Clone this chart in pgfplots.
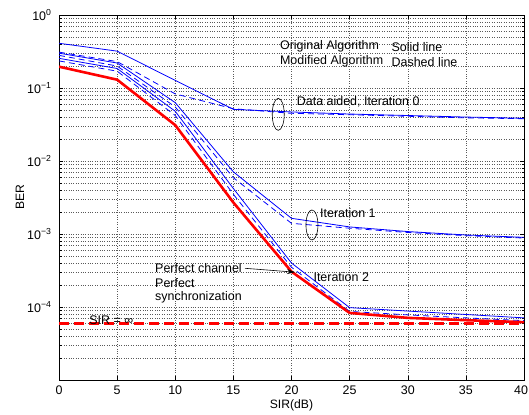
\documentclass[border=0pt]{standalone}
\usepackage{fontspec}
\setmainfont{Liberation Sans}
\usepackage{pgfplots}
\pgfplotsset{compat=1.18}
\usetikzlibrary{arrows.meta}
\newcommand{\ep}[1]{10\textsuperscript{#1}}
\begin{document}
\begin{tikzpicture}
\begin{axis}[
  name=ax,
  scale only axis, width=465bp, height=365bp,
  xmin=0, xmax=40, ymode=log, ymin=1e-5, ymax=1,
  xtick={0,5,...,40}, xticklabels={0,5,10,15,20,25,30,35,{\kern-6bp 40}},
  ytick={1e-5,1e-4,1e-3,1e-2,1e-1,1},
  yticklabels={,\ep{−4},\ep{−3},\ep{−2},\ep{−1},\ep{0}},
  grid=both,
  major grid style={dotted, black!65, line width=0.5pt},
  minor grid style={dotted, black!65, line width=0.5pt},
  axis line style={line width=0.8pt},
  tick style={black, line width=0.5pt},
  major tick length=4bp, minor tick length=2.5bp,
  tick label style={font=\fontsize{12.5}{14}\selectfont},
  yticklabel style={xshift=-4bp},
  xticklabel style={yshift=-2bp},
  label style={font=\fontsize{12.2}{14}\selectfont},
  xlabel={SIR(dB)}, ylabel={BER},
  xlabel style={at={(axis description cs:0.5,0)}, anchor=center, yshift=-25bp},
  ylabel style={at={(axis description cs:0,0.5)}, anchor=center, yshift=39bp},
  every axis plot/.append style={line join=round},
]
% Iteration 0
\addplot[blue, line width=0.8bp] coordinates {(0,0.41)(5,0.32)(10,0.127)(15,0.051)(20,0.047)(25,0.044)(30,0.042)(35,0.040)(40,0.0385)};
\addplot[blue, line width=0.8bp, dash pattern=on 6bp off 4bp] coordinates {(0,0.31)(5,0.23)(10,0.083)(15,0.052)(20,0.045)(25,0.043)(30,0.041)(35,0.039)(40,0.038)};
% Iteration 1
\addplot[blue, line width=0.8bp] coordinates {(0,0.30)(5,0.22)(10,0.063)(15,7.1e-3)(20,1.64e-3)(25,1.25e-3)(30,1.08e-3)(35,0.97e-3)(40,0.9e-3)};
\addplot[blue, line width=0.8bp, dash pattern=on 6bp off 4bp] coordinates {(0,0.28)(5,0.20)(10,0.055)(15,5.9e-3)(20,1.4e-3)(25,1.2e-3)(30,1.05e-3)(35,0.95e-3)(40,0.88e-3)};
% Iteration 2
\addplot[blue, line width=0.8bp] coordinates {(0,0.255)(5,0.185)(10,0.048)(15,4.2e-3)(20,4.0e-4)(25,9.8e-5)(30,8.8e-5)(35,7.9e-5)(40,7.1e-5)};
\addplot[blue, line width=0.8bp, dash pattern=on 6bp off 4bp] coordinates {(0,0.235)(5,0.17)(10,0.042)(15,3.5e-3)(20,3.5e-4)(25,8.7e-5)(30,7.8e-5)(35,7.1e-5)(40,6.5e-5)};
% Perfect channel
\addplot[red, line width=2.6bp] coordinates {(0,0.196)(5,0.13)(10,0.031)(15,2.7e-3)(20,3.05e-4)(25,8.3e-5)(30,7.1e-5)(35,6.6e-5)(40,6.2e-5)};
% SIR = infinity
\addplot[red, line width=2.6bp, dash pattern=on 10bp off 5bp] coordinates {(0,6e-5)(40,6e-5)};

\begin{scope}[font=\fontsize{12.5}{14}\selectfont]
\node[anchor=west, inner sep=0] at (axis cs:19.0,0.368) {Original Algorithm};
\node[anchor=west, inner sep=0] at (axis cs:28.6,0.368) {Solid line};
\node[anchor=west, inner sep=0] at (axis cs:19.0,0.229) {Modified Algorithm};
\node[anchor=west, inner sep=0] at (axis cs:28.6,0.229) {Dashed line};
\node[anchor=west, inner sep=0] at (axis cs:20.45,0.0649) {Data aided, Iteration 0};
\draw[black, line width=0.6pt] (axis cs:18.86,0.0436) ellipse [x radius=6bp, y radius=16bp];
\node[anchor=west, inner sep=0] at (axis cs:22.45,1.92e-3) {Iteration 1};
\draw[black, line width=0.6pt] (axis cs:21.76,1.33e-3) ellipse [x radius=6bp, y radius=15bp];
\node[anchor=west, inner sep=0] at (axis cs:21.88,2.6e-4) {Iteration 2};
\node[anchor=west, inner sep=0] at (axis cs:8.26,3.39e-4) {Perfect channel};
\node[anchor=west, inner sep=0] at (axis cs:8.26,2.15e-4) {Perfect};
\node[anchor=west, inner sep=0] at (axis cs:8.26,1.36e-4) {synchronization};
\draw[black, line width=0.6pt, -{Stealth[length=8bp,width=5bp]}] (axis cs:16.0,3.39e-4) -- (axis cs:20.3,3.0e-4);
\node[anchor=west, inner sep=0] at (axis cs:2.6,6.6e-5) {SIR = ∞};
\end{scope}
\end{axis}
\pgfresetboundingbox
\path[use as bounding box] ([xshift=-59bp,yshift=-35bp]ax.south west) rectangle ([xshift=5bp,yshift=15bp]ax.north east);
\end{tikzpicture}
\end{document}
